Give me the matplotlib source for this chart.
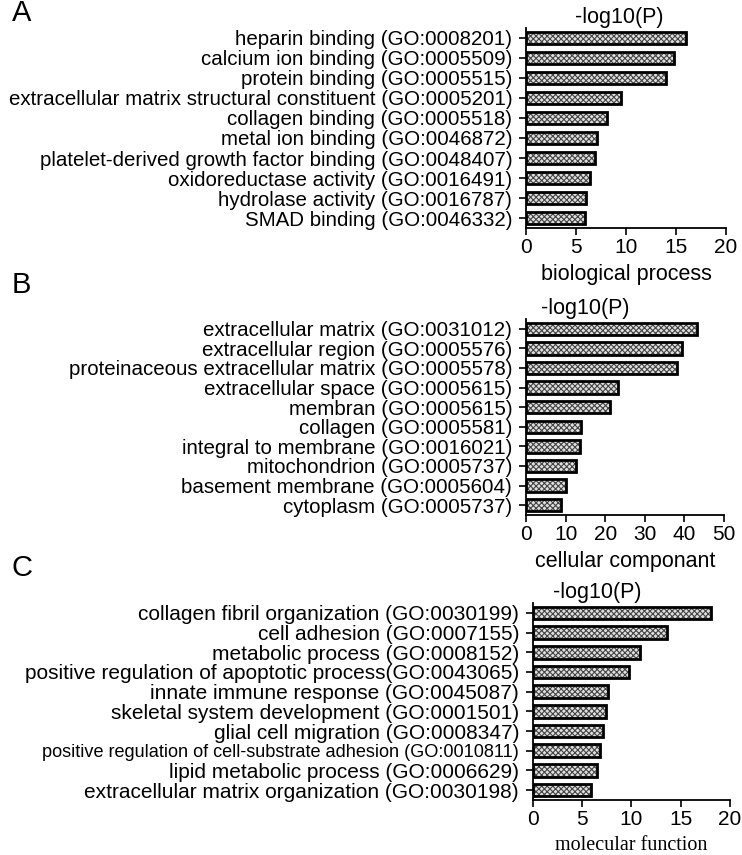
import matplotlib.pyplot as plt

# data
bp_terms = ['heparin binding (GO:0008201)', 'calcium ion binding (GO:0005509)',
            'protein binding (GO:0005515)',
            'extracellular matrix structural constituent (GO:0005201)',
            'collagen binding (GO:0005518)', 'metal ion binding (GO:0046872)',
            'platelet-derived growth factor binding (GO:0048407)',
            'oxidoreductase activity (GO:0016491)', 'hydrolase activity (GO:0016787)',
            'SMAD binding (GO:0046332)']
bp_vals = [16.0, 14.8, 14.0, 9.5, 8.1, 7.1, 6.9, 6.4, 6.0, 5.9]

cc_terms = ['extracellular matrix (GO:0031012)', 'extracellular region (GO:0005576)',
            'proteinaceous extracellular matrix (GO:0005578)',
            'extracellular space (GO:0005615)', 'membran (GO:0005615)',
            'collagen (GO:0005581)', 'integral to membrane (GO:0016021)',
            'mitochondrion (GO:0005737)', 'basement membrane (GO:0005604)',
            'cytoplasm (GO:0005737)']
cc_vals = [43.1, 39.3, 38.2, 23.1, 21.1, 13.9, 13.5, 12.6, 10.1, 8.9]

mf_terms = ['collagen fibril organization (GO:0030199)', 'cell adhesion (GO:0007155)',
            'metabolic process (GO:0008152)',
            'positive regulation of apoptotic process(GO:0043065)',
            'innate immune response (GO:0045087)',
            'skeletal system development (GO:0001501)',
            'glial cell migration (GO:0008347)',
            'positive regulation of cell-substrate adhesion (GO:0010811)',
            'lipid metabolic process (GO:0006629)',
            'extracellular matrix organization (GO:0030198)']
mf_vals = [18.1, 13.6, 10.9, 9.7, 7.6, 7.4, 7.1, 6.85, 6.5, 5.9]

plt.rcParams['font.family'] = ['Liberation Sans', 'DejaVu Sans']
plt.rcParams['hatch.linewidth'] = 0.8

fig = plt.figure(figsize=(7.42, 8.55), dpi=100)

panels = [
    ('A', bp_terms, bp_vals, 20, [0, 5, 10, 15, 20], 'biological process',
     [0.709, 0.7333, 0.2695, 0.234], 0.465, 14.8),
    ('B', cc_terms, cc_vals, 50, [0, 10, 20, 30, 40, 50], 'cellular componant',
     [0.709, 0.3977, 0.2668, 0.2292], 0.30, 14.8),
    ('C', mf_terms, mf_vals, 20, [0, 5, 10, 15, 20], 'molecular function',
     [0.7183, 0.0643, 0.2655, 0.2304], 0.325, 15.0),
]

for letter, terms, vals, xmax, xt, xlab, pos, tx, lfs in panels:
    ax = fig.add_axes(pos)
    y = list(range(len(terms)))
    # hatched fill, then black outline on top
    ax.barh(y, vals, height=0.64, color='#e0e0e0', edgecolor='#444444',
            hatch='xxxxxx', linewidth=0)
    ax.barh(y, vals, height=0.64, fill=False, edgecolor='black', linewidth=2.0)
    ax.set_ylim(9.5, -0.5)
    ax.set_xlim(0, xmax)
    ax.set_xticks(xt)
    ax.set_yticks(y)
    ax.set_yticklabels(terms, fontsize=lfs)
    if letter == 'C':
        ax.get_yticklabels()[7].set_fontsize(13.1)
    ax.tick_params(axis='x', labelsize=15, length=5, width=1.2, pad=2)
    ax.tick_params(axis='y', length=5, width=1.2, pad=5)
    for s in ['top', 'right']:
        ax.spines[s].set_visible(False)
    for s in ['left', 'bottom']:
        ax.spines[s].set_linewidth(1.3)
    ax.text(tx, 1.0, '-log10(P)', transform=ax.transAxes, ha='center',
            va='bottom', fontsize=15.5)
    if letter == 'C':
        ax.set_xlabel(xlab, fontsize=14.5, family=['Liberation Serif'], labelpad=5)
    else:
        ax.set_xlabel(xlab, fontsize=15.5, labelpad=5)

fig.text(0.016, 0.985, 'A', fontsize=21, va='center')
fig.text(0.016, 0.667, 'B', fontsize=21, va='center')
fig.text(0.016, 0.336, 'C', fontsize=21, va='center')

plt.savefig('out.png', dpi=100)
